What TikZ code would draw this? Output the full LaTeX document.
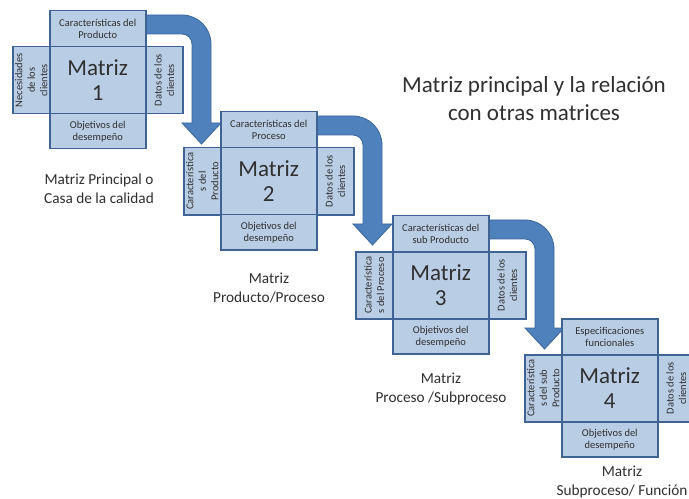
\documentclass[tikz,border=0pt]{standalone}
\usepackage{fontspec}
\setmainfont{Carlito}
\definecolor{cellfill}{HTML}{B9CDE5}
\definecolor{celledge}{HTML}{3F6494}
\definecolor{arrowfill}{HTML}{4F81BD}
\definecolor{arrowedge}{HTML}{3A6699}
\definecolor{inktext}{HTML}{303030}
\tikzset{
  cell/.style={draw=celledge, line width=1.5bp, fill=cellfill, inner sep=0pt,
    anchor=north west, align=center, text=inktext,
    font=\fontsize{10.5bp}{12bp}\selectfont},
  sidetext/.style={align=center, text=inktext, rotate=90, inner sep=0pt,
    font=\fontsize{10.5bp}{12.5bp}\selectfont},
  bigtext/.style={align=center, text=inktext, inner sep=0pt,
    font=\fontsize{23bp}{25bp}\selectfont},
  caption/.style={align=center, text=inktext, inner sep=0pt,
    font=\fontsize{15.3bp}{19bp}\selectfont},
  bentarrow/.style={fill=arrowfill, draw=arrowedge, line width=0.8bp, line join=miter}
}
% one cross-shaped block of cells; #1 name, (#2,#3) top-left of the top cell
\newcommand\matrixblock[6]{%
  \node[cell, minimum width=37bp, minimum height=67bp] (#1l) at ({#2-37},{#3+36}) {};
  \node[sidetext] (#1lt) at (#1l.center) {#5};
  \node[cell, minimum width=37bp, minimum height=67bp] (#1r) at ({#2+96},{#3+36}) {};
  \node[sidetext] (#1rt) at (#1r.center) {Datos de los\\clientes};
  \node[cell, minimum width=96bp, minimum height=67bp] (#1c) at (#2,{#3+36}) {};
  \node[bigtext] (#1ct) at (#1c.center) {Matriz\\#4};
  \node[cell, minimum width=96bp, minimum height=36bp] (#1t) at (#2,#3) {#6};
  \node[cell, minimum width=96bp, minimum height=35bp] (#1b) at (#2,{#3+103}) {Objetivos del\\desempeño};
}
% bent block arrow leaving the top cell of the block at (#1,#2)
\newcommand\bentarrow[2]{%
  \filldraw[bentarrow] ({#1+92},{#2+5}) -- ({#1+133},{#2+5})
    arc[start angle=-90, end angle=0, radius=29]
    -- ({#1+162},{#2+113}) -- ({#1+172},{#2+113}) -- ({#1+152.5},{#2+134})
    -- ({#1+133},{#2+113}) -- ({#1+143},{#2+113}) -- ({#1+143},{#2+34})
    arc[start angle=0, end angle=-90, radius=10]
    -- ({#1+92},{#2+24}) -- cycle;
}
\begin{document}
\begin{tikzpicture}[x=1bp, y=-1bp]
  \useasboundingbox (0,0) rectangle (689,499);
  \clip (0,0) rectangle (689,499);
  \fill[white] (0,0) rectangle (689,499);

  % connecting arrows, drawn under the cells
  \bentarrow{49}{10}
  \bentarrow{220}{111}
  \bentarrow{392}{215}

  \matrixblock{m1}{49}{10}{1}{Necesidades\\de los\\clientes}{Características del\\Producto}
  \matrixblock{m2}{220}{111}{2}{Característica\\s del\\Producto}{Características del\\Proceso}
  \matrixblock{m3}{392}{215}{3}{Característica\\s del Proceso}{Características del\\sub Producto}
  \matrixblock{m4}{561}{318}{4}{Característica\\s del sub\\Producto}{Especificaciones\\funcionales}

  \node[caption] (cap1) at (99,189) {Matriz Principal o\\Casa de la calidad};
  \node[caption] (cap2) at (269,288) {Matriz\\Producto/Proceso};
  \node[caption] (cap3) at (441,389) {Matriz\\Proceso /Subproceso};
  \node[caption] (cap4) at (622,482) {Matriz\\Subproceso/ Función};

  \node[align=center, text=inktext, inner sep=0pt,
        font=\fontsize{23bp}{28bp}\selectfont] (title) at (534,99)
        {Matriz principal y la relación\\con otras matrices};
\end{tikzpicture}
\end{document}
